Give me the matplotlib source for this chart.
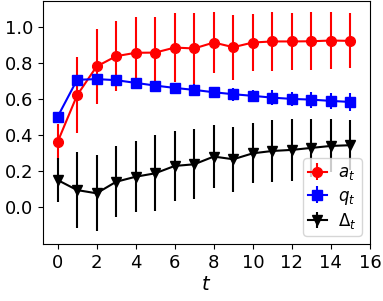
import matplotlib
matplotlib.use("Agg")
import matplotlib.pyplot as plt
import numpy as np

t = np.arange(16)

a_mean = [0.36, 0.62, 0.78, 0.837, 0.856, 0.857, 0.885, 0.88, 0.913, 0.887,
          0.913, 0.919, 0.919, 0.92, 0.924, 0.922]
a_err = [0.10, 0.21, 0.21, 0.195, 0.20, 0.20, 0.19, 0.195, 0.17, 0.18,
         0.16, 0.165, 0.16, 0.16, 0.157, 0.153]

q_mean = [0.50, 0.706, 0.71, 0.704, 0.689, 0.674, 0.661, 0.65, 0.637, 0.626,
          0.617, 0.607, 0.60, 0.596, 0.589, 0.583]
q_err = [0.01, 0.015, 0.015, 0.015, 0.02, 0.02, 0.025, 0.03, 0.03, 0.035,
         0.035, 0.04, 0.04, 0.045, 0.045, 0.05]

d_mean = [0.15, 0.094, 0.076, 0.14, 0.168, 0.187, 0.228, 0.237, 0.28, 0.265,
          0.298, 0.311, 0.317, 0.328, 0.339, 0.343]
d_err = [0.12, 0.21, 0.21, 0.196, 0.197, 0.21, 0.195, 0.195, 0.176, 0.18,
         0.167, 0.17, 0.17, 0.16, 0.147, 0.14]

fig = plt.figure(figsize=(3.83, 3.01), dpi=100)
ax = fig.add_axes([0.112, 0.189, 0.854, 0.808])

ax.errorbar(t, a_mean, yerr=a_err, color="red", marker="o", ms=7, lw=1.5,
            elinewidth=1.5, label="$a_t$")
ax.errorbar(t, q_mean, yerr=q_err, color="blue", marker="s", ms=7, lw=1.5,
            elinewidth=1.5, label="$q_t$")
ax.errorbar(t, d_mean, yerr=d_err, color="black", marker="v", ms=7, lw=1.5,
            elinewidth=1.5, label="$\\Delta_t$")

ax.set_xlim(-0.75, 16)
ax.set_ylim(-0.206, 1.144)
ax.set_xticks(range(0, 17, 2))
ax.set_yticks([0.0, 0.2, 0.4, 0.6, 0.8, 1.0])
ax.tick_params(labelsize=13)
ax.set_xlabel("$t$", fontsize=14, labelpad=2)
ax.legend(loc="lower right", fontsize=12, handlelength=1.1, borderpad=0.3,
          labelspacing=0.25, handletextpad=0.7)

fig.savefig("out.png", dpi=100)
